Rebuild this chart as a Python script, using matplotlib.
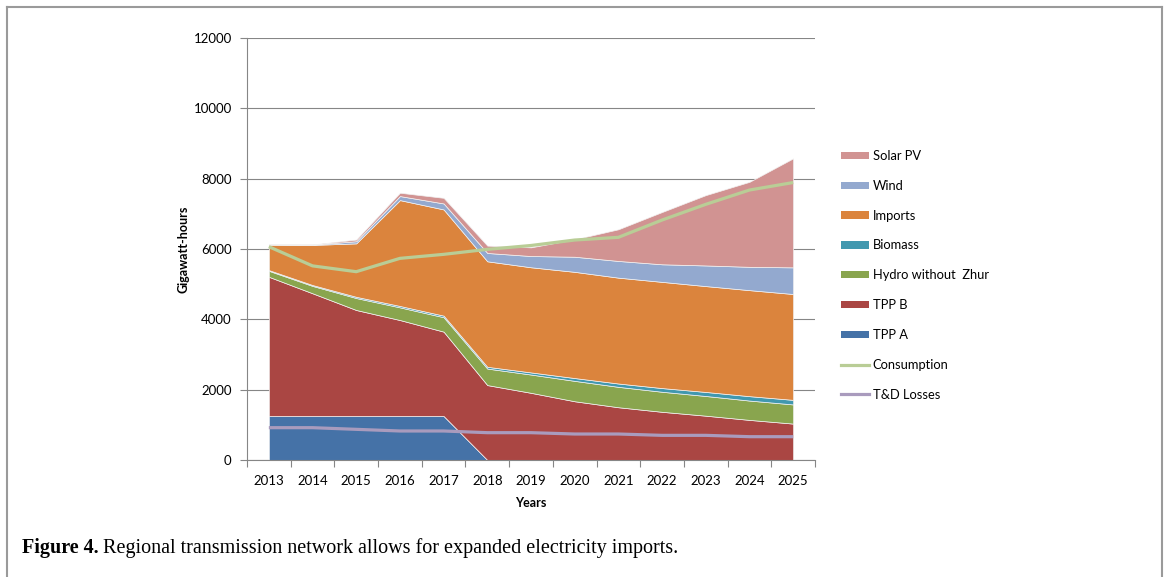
import matplotlib
matplotlib.use("Agg")
import matplotlib.pyplot as plt
from matplotlib.patches import Patch
from matplotlib.lines import Line2D
import numpy as np

# ---------------- data ----------------
years = ["2013", "2014", "2015", "2016", "2017", "2018", "2019",
         "2020", "2021", "2022", "2023", "2024", "2025"]
tpp_a = [1250, 1250, 1250, 1250, 1250, 0, 0, 0, 0, 0, 0, 0, 0]
tpp_b = [3960, 3490, 3015, 2730, 2400, 2130, 1910, 1670, 1500, 1370, 1260, 1140, 1035]
hydro = [170, 210, 340, 360, 410, 470, 520, 580, 580, 570, 560, 550, 545]
biomass = [20, 25, 35, 40, 45, 50, 60, 80, 95, 105, 115, 125, 130]
imports = [730, 1140, 1520, 3010, 3020, 3000, 2990, 3020, 3010, 3020, 3010, 3015, 3010]
wind = [0, 10, 60, 115, 170, 237, 320, 430, 475, 500, 587, 663, 758]
solar = [0, 5, 48, 95, 160, 209, 247, 494, 901, 1487, 2000, 2417, 3100]
consumption = [6066, 5520, 5355, 5734, 5848, 5990, 6100, 6255, 6332, 6824, 7270, 7677, 7890]
td_losses = [919, 919, 872, 825, 825, 777, 777, 739, 739, 701, 701, 663, 663]

area_labels = ["TPP A", "TPP B", "Hydro without  Zhur", "Biomass", "Imports", "Wind", "Solar PV"]
area_colors = ["#4572A7", "#AA4643", "#89A54E", "#4198AF", "#DB843D", "#93A9CF", "#D19392"]
line_labels = ["Consumption", "T&D Losses"]
line_colors = ["#B9CD96", "#A99BBD"]
yticks = [0, 2000, 4000, 6000, 8000, 10000, 12000]

# ---------------- figure ----------------
W, H = 1170, 577
fig = plt.figure(figsize=(W / 100, H / 100), dpi=100)
fig.patch.set_facecolor("white")

FONT = "Lato"
plt.rcParams["font.family"] = [FONT, "DejaVu Sans"]

# outer frame (open at bottom)
frame_col = "#9a9a9a"
fig.add_artist(Line2D([7 / W, 7 / W], [0, 1 - 7 / H], color=frame_col, lw=1.5, transform=fig.transFigure))
fig.add_artist(Line2D([7 / W, 1162 / W], [1 - 7 / H, 1 - 7 / H], color=frame_col, lw=1.5, transform=fig.transFigure))
fig.add_artist(Line2D([1162 / W, 1162 / W], [0, 1 - 7 / H], color=frame_col, lw=1.5, transform=fig.transFigure))

left, right, top, bottom = 247, 815, 38, 460
ax = fig.add_axes([left / W, 1 - bottom / H, (right - left) / W, (bottom - top) / H])

x = np.arange(len(years))
series = [tpp_a, tpp_b, hydro, biomass, imports, wind, solar]
polys = ax.stackplot(x, *series, colors=area_colors, labels=area_labels,
                     edgecolor="#f2f2f2", linewidth=0.5, zorder=2)

ax.plot(x, consumption, color=line_colors[0], lw=2.3, zorder=3, solid_capstyle="butt")
ax.plot(x, td_losses, color=line_colors[1], lw=2.3, zorder=3, solid_capstyle="butt")

ax.set_xlim(-0.5, len(years) - 0.5)
ax.set_ylim(0, 12000)

grid_col = "#868686"
ax.set_yticks(yticks)
ax.set_yticklabels([str(v) for v in yticks])
ax.yaxis.grid(True, color=grid_col, lw=0.8, zorder=0)
ax.set_axisbelow(True)

ax.set_xticks(x)
ax.set_xticklabels(years)
ax.set_xticks(np.arange(-0.5, len(years), 1.0), minor=True)
ax.tick_params(axis="x", which="major", length=0, pad=11, labelsize=9.5, labelcolor="black")
ax.tick_params(axis="x", which="minor", length=5, width=0.8, color=grid_col, direction="out")
ax.tick_params(axis="y", which="major", length=5, width=0.8, color=grid_col, pad=6,
               labelsize=9.5, labelcolor="black")

for s in ["top", "right"]:
    ax.spines[s].set_visible(False)
for s in ["left", "bottom"]:
    ax.spines[s].set_color(grid_col)
    ax.spines[s].set_linewidth(0.8)

ax.set_ylabel("Gigawatt-hours", fontsize=9, fontweight="bold", labelpad=3)
ax.set_xlabel("Years", fontsize=9, fontweight="bold", labelpad=7)

# legend
handles = []
for lab, col in reversed(list(zip(area_labels, area_colors))):
    handles.append((Patch(facecolor=col, edgecolor="none"), lab))
for lab, col in zip(line_labels, line_colors):
    handles.append((Line2D([], [], color=col, lw=2.3), lab))
leg = fig.legend([h for h, _ in handles], [l for _, l in handles],
                 loc="upper left", bbox_to_anchor=(841 / W, 1 - 150 / H),
                 frameon=False, fontsize=9.3, handlelength=2.2, handleheight=0.5,
                 handletextpad=0.25, labelspacing=1.38, borderpad=0, borderaxespad=0)

# caption
fig.canvas.draw()
r = fig.canvas.get_renderer()
cap_size = 14.5
t1 = fig.text(22 / W, 1 - 553 / H, "Figure 4.", fontsize=cap_size, fontweight="bold",
              family=["Liberation Serif"], va="baseline")
bb = t1.get_window_extent(r)
fig.text((bb.x1 + 4) / W, 1 - 553 / H,
         "Regional transmission network allows for expanded electricity imports.",
         fontsize=cap_size, family=["Liberation Serif"], va="baseline")

fig.savefig("out.png", dpi=100, facecolor="white")
